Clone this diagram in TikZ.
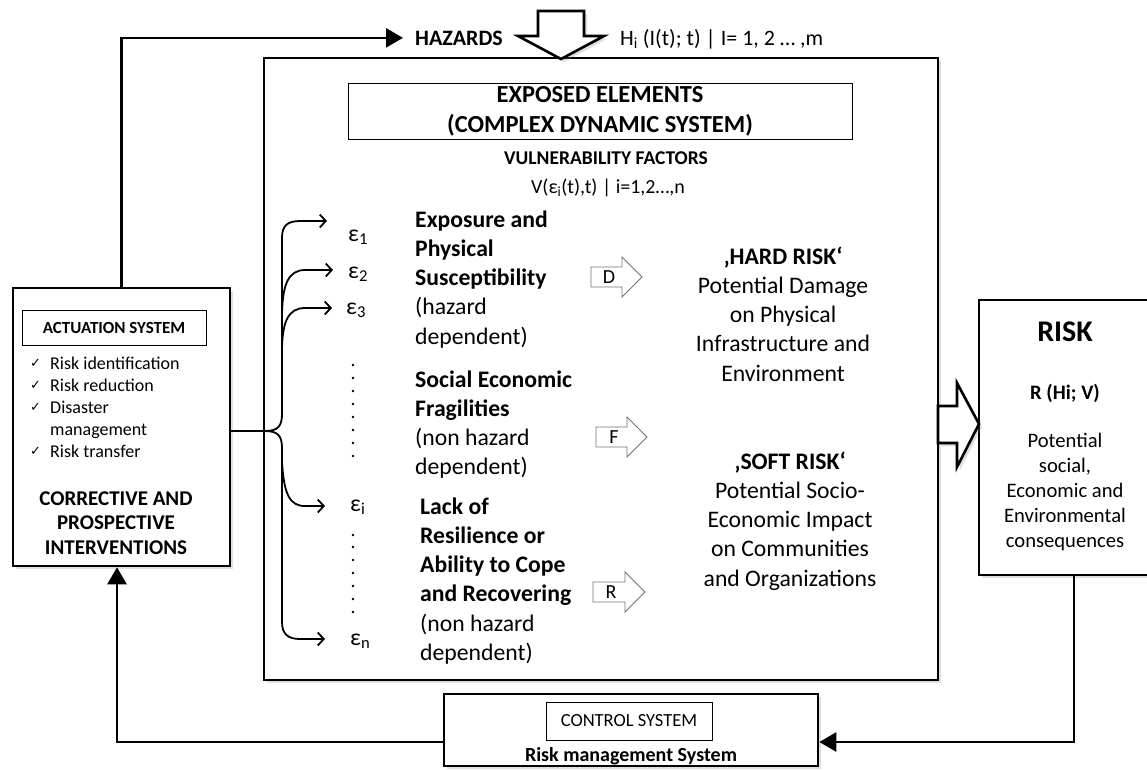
\documentclass[tikz,border=0pt]{standalone}
\usepackage{fontspec}
\setmainfont{Carlito}
\newfontfamily\djv{DejaVu Sans}
\usetikzlibrary{arrows.meta,shadows}
\begin{document}
\begin{tikzpicture}[x=1pt,y=-1pt,
  box/.style={draw, line width=2.6pt, fill=white, inner sep=0pt,
    drop shadow={shadow xshift=3pt, shadow yshift=-3pt, opacity=0.25}},
  tbox/.style={draw, line width=1pt, fill=white, inner sep=0pt},
  conn/.style={line width=2.6pt},
  ftip/.style={-{Triangle[length=17pt,width=19pt]}},
  brace/.style={line width=1.8pt, -{Straight Barb[length=6pt,width=13pt]}},
  txt/.style={inner sep=0pt, anchor=base west},
  ctxt/.style={inner sep=0pt, anchor=base, align=center},
  bigarr/.style={draw, line width=2.6pt, fill=white, line join=miter,
    drop shadow={shadow xshift=3pt, shadow yshift=-3pt, opacity=0.25}},
  sarr/.style={draw=black!55, line width=0.8pt, fill=white},
  colf/.style={font=\fontsize{23.7}{29.3}\selectfont},
]
\useasboundingbox (0,0) rectangle (1147,769);

% main boxes
\node[box, minimum width=674pt, minimum height=622pt] (main) at (601,369) {};
\node[box, minimum width=217pt, minimum height=278pt] (act) at (121.5,427) {};
\node[box, minimum width=174pt, minimum height=275pt] (risk) at (1066,437.5) {};
\node[box, minimum width=374pt, minimum height=72pt] (ctrl) at (631,730) {};

% hazards
\node[txt, inner xsep=12pt, font=\bfseries\fontsize{22}{26}\selectfont] (haz) at (403,45) {HAZARDS};
\node[txt, font=\fontsize{22}{26}\selectfont] (hfun) at (620,45) {H\textsubscript{i} (I(t); t) | I= 1, 2 … ,m};
\draw[bigarr] (538,11) -- (584,11) -- (584,36) -- (604,36) -- (561,59) -- (518,36) -- (538,36) -- cycle;

% exposed elements
\node[tbox, minimum width=504pt, minimum height=56pt, align=center,
  font=\bfseries\fontsize{24.5}{30}\selectfont] (expo) at (600,111) {EXPOSED ELEMENTS\\(COMPLEX DYNAMIC SYSTEM)};
\node[ctxt, font=\bfseries\fontsize{19.5}{23}\selectfont] (vuln) at (606,164) {VULNERABILITY FACTORS};
\node[ctxt, font=\fontsize{20}{24}\selectfont] (vfun) at (608,193) {V(ε\textsubscript{i}(t),t) | i=1,2…,n};

% factor column (anchor = baseline of last line)
\node[txt, align=left, colf] (f1) at (415,344.2) {\textbf{Exposure and}\\\textbf{Physical}\\\textbf{Susceptibility}\\(hazard\\dependent)};
\node[txt, align=left, colf] (f2) at (415,474.9) {\textbf{Social Economic}\\\textbf{Fragilities}\\(non hazard\\dependent)};
\node[txt, align=left, colf] (f3) at (420,660.5) {\textbf{Lack of}\\\textbf{Resilience or}\\\textbf{Ability to Cope}\\\textbf{and Recovering}\\(non hazard\\dependent)};

% risk columns
\node[ctxt, colf] (hard) at (783,381.2) {\textbf{‚HARD RISK‘}\\Potential Damage\\on Physical\\Infrastructure and\\Environment};
\node[ctxt, colf] (soft) at (790,586.2) {\textbf{‚SOFT RISK‘}\\Potential Socio-\\Economic Impact\\on Communities\\and Organizations};

% small hollow arrows
\draw[sarr] (591,267) -- (622,267) -- (622,257) -- (642,277) -- (622,297) -- (622,287) -- (591,287) -- cycle;
\draw[sarr] (596,427) -- (627,427) -- (627,417) -- (647,437) -- (627,457) -- (627,447) -- (596,447) -- cycle;
\draw[sarr] (593,582) -- (625,582) -- (625,572) -- (645,592) -- (625,612) -- (625,602) -- (593,602) -- cycle;
\node[inner sep=0pt, font=\fontsize{20}{24}\selectfont] (lD) at (609,277) {D};
\node[inner sep=0pt, font=\fontsize{20}{24}\selectfont] (lF) at (614,437) {F};
\node[inner sep=0pt, font=\fontsize{20}{24}\selectfont] (lR) at (611,592) {R};

% epsilons
\node[txt, colf] (e1) at (348,241) {ε\textsubscript{1}};
\node[txt, colf] (e2) at (348,278) {ε\textsubscript{2}};
\node[txt, colf] (e3) at (346,314) {ε\textsubscript{3}};
\node[txt, colf] (ei) at (350,511) {ε\textsubscript{i}};
\node[txt, colf] (en) at (350,645) {ε\textsubscript{n}};
\foreach \y in {365,378,391,404,417,430,443,456} \fill (353,\y) circle (1.4);
\foreach \y in {535,547,560,573,586,599,612} \fill (353,\y) circle (1.4);

% brace
\coordinate (cusp) at (265,431);
\coordinate (a1) at (327,221);
\coordinate (a2) at (333,270);
\coordinate (a3) at (332,308);
\coordinate (ai) at (325,506);
\coordinate (an) at (325,639);
\coordinate (b2) at (282,318);
\coordinate (b3) at (282,352);
\coordinate (bi) at (282,462);
\draw[conn] ([yshift=-4pt]act.east) -- (cusp);
\draw[brace] (cusp) .. controls (278,431) and (282,426) .. (282,414) -- (282,238) .. controls (282,226) and (287,221) .. (300,221) -- (a1);
\draw[brace] (b2) .. controls (282,285) and (288,270) .. (305,270) -- (a2);
\draw[brace] (b3) .. controls (282,322) and (288,308) .. (305,308) -- (a3);
\draw[brace] (cusp) .. controls (278,431) and (282,436) .. (282,448) -- (282,622) .. controls (282,634) and (288,639) .. (300,639) -- (an);
\draw[brace] (bi) .. controls (284,495) and (290,506) .. (305,506) -- (ai);

% right big arrow
\draw[bigarr] (938,406) -- (957,406) -- (957,383) -- (979,424) -- (957,467) -- (957,443) -- (938,443) -- cycle;

% risk box text
\node[ctxt, font=\bfseries\fontsize{30}{36}\selectfont] (risktitle) at (1065,341) {RISK};
\node[ctxt, font=\bfseries\fontsize{20.6}{25}\selectfont] (rfun) at (1065,399) {R (Hi; V)};
\node[ctxt, font=\fontsize{20.6}{25}\selectfont] (rcons) at (1065,547) {Potential\\social,\\Economic and\\Environmental\\consequences};

% actuation
\node[tbox, minimum width=184pt, minimum height=35pt, font=\bfseries\fontsize{17}{20}\selectfont] (actt) at (114,327.5) {ACTUATION SYSTEM};
\node[txt, align=left, font=\fontsize{18}{22.2}\selectfont] (items) at (50,457.8) {Risk identification\\Risk reduction\\Disaster\\management\\Risk transfer};
\node[txt, font=\djv\fontsize{13}{16}\selectfont] (ck1) at (30,367) {✓};
\node[txt, font=\djv\fontsize{13}{16}\selectfont] (ck2) at (30,389.2) {✓};
\node[txt, font=\djv\fontsize{13}{16}\selectfont] (ck3) at (30,411.4) {✓};
\node[txt, font=\djv\fontsize{13}{16}\selectfont] (ck4) at (30,455.8) {✓};
\node[ctxt, font=\bfseries\fontsize{21}{24.5}\selectfont] (corr) at (116,554) {CORRECTIVE AND\\PROSPECTIVE\\INTERVENTIONS};

% control
\node[tbox, minimum width=166pt, minimum height=38pt, font=\fontsize{18.5}{22}\selectfont] (ctrlt) at (629,721) {CONTROL SYSTEM};
\node[ctxt, font=\bfseries\fontsize{20}{24}\selectfont] (rms) at (631,761) {Risk management System};

% feedback connectors
\draw[conn, ftip] (act.north) |- (haz.west);
\draw[conn, ftip] ([yshift=-12pt]ctrl.west) -| ([xshift=-4.5pt]act.south);
\draw[conn, ftip] ([xshift=8pt]risk.south) |- ([yshift=-12pt]ctrl.east);
\end{tikzpicture}
\end{document}
